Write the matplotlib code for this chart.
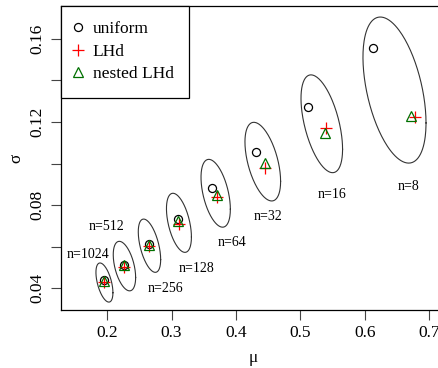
import numpy as np
import matplotlib
matplotlib.use("Agg")
import matplotlib.pyplot as plt

plt.rcParams['font.family'] = ['Liberation Serif', 'DejaVu Serif']

# sample sizes
labels = ["n=8", "n=16", "n=32", "n=64", "n=128", "n=256", "n=512", "n=1024"]

# ellipse: centre, half-width in mu, half-height in sigma, correlation
ell_mu = [0.6464, 0.5334, 0.4417, 0.3685, 0.3114, 0.2656, 0.2267, 0.1956]
ell_sig = [0.1353, 0.1191, 0.1009, 0.0857, 0.0715, 0.0605, 0.0507, 0.0428]
ell_a = [0.0490, 0.0323, 0.0277, 0.0228, 0.0194, 0.0174, 0.0174, 0.0132]
ell_b = [0.0351, 0.0235, 0.0189, 0.0163, 0.0142, 0.0128, 0.0119, 0.0094]
ell_rho = [-0.45, -0.52, -0.50, -0.47, -0.48, -0.52, -0.46, -0.52]

# point estimates
unif_mu = [0.6134, 0.5126, 0.4307, 0.3632, 0.3103, 0.2653, 0.2260, 0.1949]
unif_sig = [0.1557, 0.1270, 0.1054, 0.0881, 0.0733, 0.0613, 0.0513, 0.0440]
lhd_mu = [0.6782, 0.5400, 0.4451, 0.3700, 0.3119, 0.2656, 0.2264, 0.1953]
lhd_sig = [0.1225, 0.1169, 0.0977, 0.0840, 0.0709, 0.0603, 0.0505, 0.0429]
nest_mu = [0.6720, 0.5388, 0.4451, 0.3710, 0.3103, 0.2653, 0.2260, 0.1949]
nest_sig = [0.1230, 0.1147, 0.1001, 0.0849, 0.0722, 0.0608, 0.0512, 0.0437]

# label positions
lab_mu = [0.668, 0.5497, 0.4498, 0.3938, 0.339, 0.2897, 0.199, 0.1705]
lab_sig = [0.0890, 0.0849, 0.0746, 0.0618, 0.0496, 0.0397, 0.0698, 0.0565]

fig = plt.figure(figsize=(4.38, 3.68), dpi=100)
ax = fig.add_axes([61/438, 1 - 310/368, 384/438, 304/368])

t = np.linspace(0, 2*np.pi, 200)
for i in range(len(labels)):
    x = ell_mu[i] + ell_a[i]*np.cos(t)
    y = ell_sig[i] + ell_b[i]*(ell_rho[i]*np.cos(t) + np.sqrt(1 - ell_rho[i]**2)*np.sin(t))
    ax.plot(x, y, color='#333333', lw=0.8)
    ax.text(lab_mu[i], lab_sig[i], labels[i], ha='center', va='center', fontsize=10)

ax.plot(unif_mu, unif_sig, 'o', mfc='none', mec='black', ms=5.8, mew=0.9, ls='none', label='uniform')
ax.plot(lhd_mu, lhd_sig, '+', color='red', ms=9, mew=0.9, ls='none', label='LHd')
ax.plot(nest_mu, nest_sig, '^', mfc='none', mec='#007000', ms=7.2, mew=0.9, ls='none', label='nested LHd')

ax.set_xlim(0.1281, 0.7249)
ax.set_ylim(0.0296, 0.1757)
ax.set_xticks([0.2, 0.3, 0.4, 0.5, 0.6, 0.7])
ax.set_xticklabels(["0.2", "0.3", "0.4", "0.5", "0.6", "0.7"])
ax.set_yticks([0.04, 0.06, 0.08, 0.10, 0.12, 0.14, 0.16])
ax.set_yticklabels(["0.04", "", "0.08", "", "0.12", "", "0.16"], rotation=90, va='center')
ax.tick_params(direction='out', length=7.5, width=0.8, labelsize=12.5, color='#444444')
ax.tick_params(axis='x', pad=3)
ax.tick_params(axis='y', pad=3.5)
for s in ax.spines.values():
    s.set_linewidth(0.9)

ax.set_xlabel('μ', fontsize=12.5, labelpad=7)
ax.set_ylabel('σ', fontsize=12.5, labelpad=4)

leg = ax.legend(loc='upper left', borderaxespad=0, fancybox=False, edgecolor='black',
                framealpha=1, fontsize=12.5, handletextpad=0.75, labelspacing=0.36,
                borderpad=0.88, handlelength=0.2)
leg.get_frame().set_linewidth(0.9)

fig.savefig('out.png', dpi=100)
